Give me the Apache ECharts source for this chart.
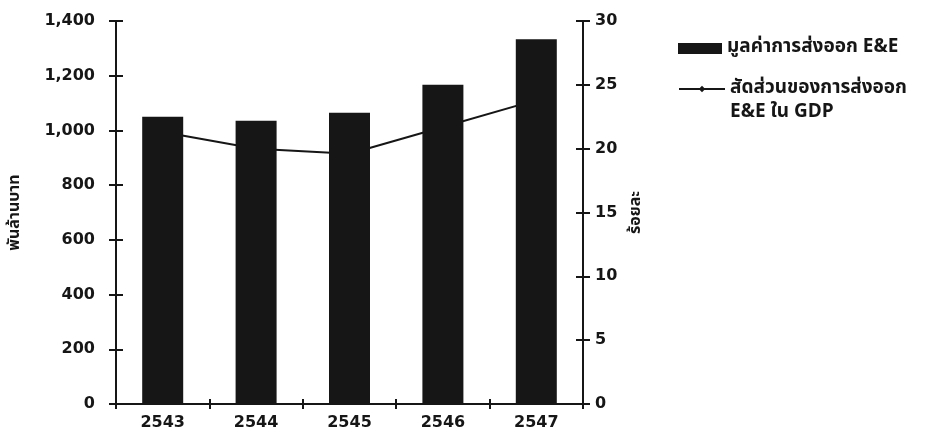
<!DOCTYPE html>
<html>
<head>
<meta charset="utf-8">
<script src="https://cdn.jsdelivr.net/npm/echarts@6/dist/echarts.min.js"></script>
<style>
html,body{margin:0;padding:0;background:#fff;}
#c{width:936px;height:438px;}
</style>
</head>
<body>
<div id="c"></div>
<script>
var categories = ['2543', '2544', '2545', '2546', '2547'];
var exportValue = [1050, 1035, 1065, 1167, 1333];
var gdpShare = [21.3, 20.0, 19.6, 21.7, 23.8];
var leftTicks = { min: 0, max: 1400, interval: 200 };
var rightTicks = { min: 0, max: 30, interval: 5 };
var barName = 'มูลค่าการส่งออก E&E';
var lineName = 'สัดส่วนของการส่งออก E&E ใน GDP';
var lineLegendLines = ['สัดส่วนของการส่งออก', 'E&E ใน GDP'];
var leftTitle = 'พันล้านบาท';
var rightTitle = 'ร้อยละ';

var FONT = '"Noto Sans Thai", "Noto Sans", "DejaVu Sans", sans-serif';
var NUMFONT = '"DejaVu Sans", sans-serif';
var INK = '#161616';
var chart = echarts.init(document.getElementById('c'));

function yAx(pos, t, showAll, name, gap) {
  return {
    type: 'value', position: pos, min: t.min, max: t.max, interval: t.interval,
    name: showAll ? name : '', nameLocation: 'middle', nameRotate: 90, nameGap: gap,
    nameTextStyle: { color: INK, fontFamily: FONT, fontWeight: 'bold', fontSize: 16 },
    axisLine: { show: showAll, lineStyle: { color: INK, width: 2 } },
    axisTick: { show: true, inside: !showAll, length: 7, lineStyle: { color: INK, width: 2 } },
    axisLabel: {
      show: showAll, color: INK, fontFamily: NUMFONT, fontWeight: 'bold',
      fontSize: 16, margin: pos === 'left' ? 21 : 12,
      formatter: function (v) { return v.toLocaleString('en-US'); }
    },
    splitLine: { show: false }
  };
}
function xAx(main) {
  return {
    type: 'category', data: categories, position: 'bottom', boundaryGap: true,
    axisLine: { show: main, lineStyle: { color: INK, width: 2 } },
    axisTick: { show: true, inside: !main, length: 5, alignWithLabel: false, lineStyle: { color: INK, width: 2 } },
    axisLabel: { show: main, color: INK, fontFamily: NUMFONT, fontWeight: 'bold', fontSize: 16, margin: 11 }
  };
}

chart.setOption({
  animation: false,
  backgroundColor: '#ffffff',
  grid: { left: 113, right: 353, top: 21, bottom: 34 },
  xAxis: [xAx(true), xAx(false)],
  yAxis: [
    yAx('left', leftTicks, true, leftTitle, 92),
    yAx('right', rightTicks, true, rightTitle, 46),
    yAx('left', leftTicks, false, '', 0),
    yAx('right', rightTicks, false, '', 0)
  ],
  legend: [
    {
      data: [{ name: barName, icon: 'rect' }], left: 673, top: 34, itemWidth: 44, itemHeight: 11, itemGap: 6,
      textStyle: { color: INK, fontFamily: FONT, fontWeight: 'bold', fontSize: 19 }
    },
    {
      data: [lineName], left: 673, top: 48, itemWidth: 46, itemHeight: 8,
      formatter: function () { return ' \n' + lineLegendLines.join('\n'); },
      textStyle: { color: INK, fontFamily: FONT, fontWeight: 'bold', fontSize: 19, lineHeight: 24 }
    }
  ],
  series: [
    {
      name: barName, type: 'bar', data: exportValue, xAxisIndex: 0, yAxisIndex: 0,
      barWidth: 41, z: 3,
      itemStyle: { color: INK }
    },
    {
      name: lineName, type: 'line', data: gdpShare, xAxisIndex: 0, yAxisIndex: 1,
      z: 1, symbol: 'diamond', symbolSize: 7, showSymbol: true,
      lineStyle: { color: INK, width: 2 }, itemStyle: { color: INK }
    }
  ]
});
</script>
</body>
</html>
